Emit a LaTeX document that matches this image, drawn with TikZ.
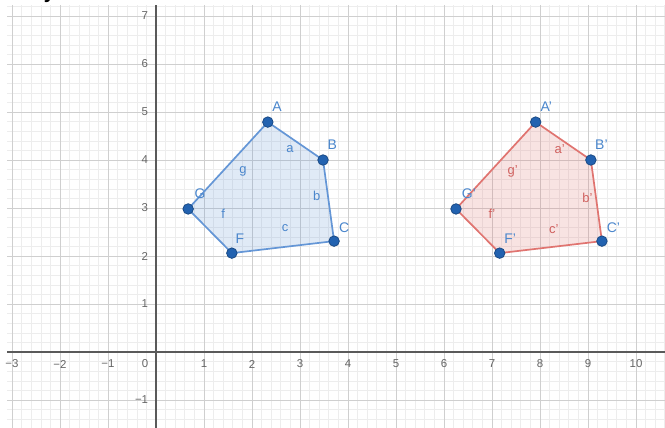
\documentclass[tikz,border=0pt]{standalone}
\usepackage{fontspec}
\setmainfont{Liberation Sans}
\usetikzlibrary{calc}
\definecolor{minorgrid}{HTML}{EDEDED}
\definecolor{majorgrid}{HTML}{CFCFCF}
\definecolor{axiscol}{HTML}{5A5A5A}
\definecolor{tickcol}{HTML}{666666}
\definecolor{bline}{HTML}{6496D6}
\definecolor{rline}{HTML}{E07470}
\definecolor{ptfill}{HTML}{2262B0}
\definecolor{ptdraw}{HTML}{1A4A85}
\definecolor{blab}{HTML}{4A86CC}
\definecolor{rlab}{HTML}{D0605E}
\begin{document}
\begin{tikzpicture}[x=48bp,y=48bp,
  minorline/.style={draw=minorgrid,line width=0.6bp},
  majorline/.style={draw=majorgrid,line width=0.9bp},
  axisline/.style={draw=axiscol,line width=1.5bp},
  xtick/.style={text=tickcol,font=\fontsize{11.5}{11.5}\selectfont,inner sep=0pt,anchor=center},
  ytick/.style={text=tickcol,font=\fontsize{11.5}{11.5}\selectfont,inner sep=0pt,anchor=east},
  bpoly/.style={draw=bline,line width=1.7bp,fill=bline,fill opacity=0.2,line join=round},
  rpoly/.style={draw=rline,line width=1.7bp,fill=rline,fill opacity=0.2,line join=round},
  pt/.style={circle,fill=ptfill,draw=ptdraw,line width=0.8bp,minimum size=10.5bp,inner sep=0pt},
  plab/.style={text=blab,font=\fontsize{14}{14}\selectfont,inner sep=0pt},
  bseg/.style={text=blab,font=\fontsize{13}{13}\selectfont,inner sep=0pt},
  rseg/.style={text=rlab,font=\fontsize{13}{13}\selectfont,inner sep=0pt}]
\useasboundingbox (-3.25,-1.58333) rectangle (10.60417,7.33333);
\clip (-3.25,-1.58333) rectangle (10.60417,7.33333);
\fill[white] (-3.25,-1.58333) rectangle (10.60417,7.33333);
% top fragment of cropped text
\node[text=black,font=\bfseries\fontsize{20}{20}\selectfont,inner sep=0pt,anchor=base] (frag) at (-2.22,7.36) {y};
% grid
\draw[minorline] (-3.104,-1.6) grid[step=0.2] (10.7,7.229);
\draw[majorline] (-3.104,-1.6) grid[step=1] (10.7,7.229);
% axes
\draw[axisline] (-3.104,0) -- (10.7,0);
\draw[axisline] (0,-1.6) -- (0,7.229);
% tick labels
\foreach \v/\t in {-3/−3,-2/−2,-1/−1,1/1,2/2,3/3,4/4,5/5,6/6,7/7,8/8,9/9,10/10}
  \node[xtick] (xl\v) at (\v,-0.25) {\t};
\node[xtick] (xl0) at (-0.23,-0.25) {0};
\foreach \v/\t in {-1/−1,1/1,2/2,3/3,4/4,5/5,6/6,7/7}
  \node[ytick] (yl\v) at (-0.16,\v) {\t};
% polygon vertices
\coordinate (A) at (2.33,4.79);
\coordinate (B) at (3.48,4.00);
\coordinate (C) at (3.71,2.31);
\coordinate (F) at (1.58,2.06);
\coordinate (G) at (0.67,2.98);
\coordinate (A') at ($(A)+(5.58,0)$);
\coordinate (B') at ($(B)+(5.58,0)$);
\coordinate (C') at ($(C)+(5.58,0)$);
\coordinate (F') at ($(F)+(5.58,0)$);
\coordinate (G') at ($(G)+(5.58,0)$);
\filldraw[bpoly] (A) -- (B) -- (C) -- (F) -- (G) -- cycle;
\filldraw[rpoly] (A') -- (B') -- (C') -- (F') -- (G') -- cycle;
% segment labels
\node[bseg] (la) at (2.79,4.23) {a};
\node[bseg] (lb) at (3.35,3.25) {b};
\node[bseg] (lc) at (2.69,2.58) {c};
\node[bseg] (lf) at (1.40,2.88) {f};
\node[bseg] (lg) at (1.81,3.77) {g};
\node[rseg] (la') at (8.41,4.22) {a'};
\node[rseg] (lb') at (8.99,3.22) {b'};
\node[rseg] (lc') at (8.29,2.57) {c'};
\node[rseg] (lf') at (7.00,2.88) {f'};
\node[rseg] (lg') at (7.43,3.76) {g'};
% points
\foreach \p in {A,B,C,F,G,A',B',C',F',G'}
  \node[pt] (pt\p) at (\p) {};
% point labels
\node[plab] (nA) at ($(A)+(0.19,0.33)$) {A};
\node[plab] (nB) at ($(B)+(0.19,0.32)$) {B};
\node[plab] (nC) at ($(C)+(0.21,0.28)$) {C};
\node[plab] (nF) at ($(F)+(0.17,0.31)$) {F};
\node[plab] (nG) at ($(G)+(0.25,0.31)$) {G};
\node[plab] (nA') at ($(A')+(0.22,0.33)$) {A'};
\node[plab] (nB') at ($(B')+(0.22,0.31)$) {B'};
\node[plab] (nC') at ($(C')+(0.24,0.28)$) {C'};
\node[plab] (nF') at ($(F')+(0.22,0.30)$) {F'};
\node[plab] (nG') at ($(G')+(0.27,0.31)$) {G'};
\end{tikzpicture}
\end{document}
